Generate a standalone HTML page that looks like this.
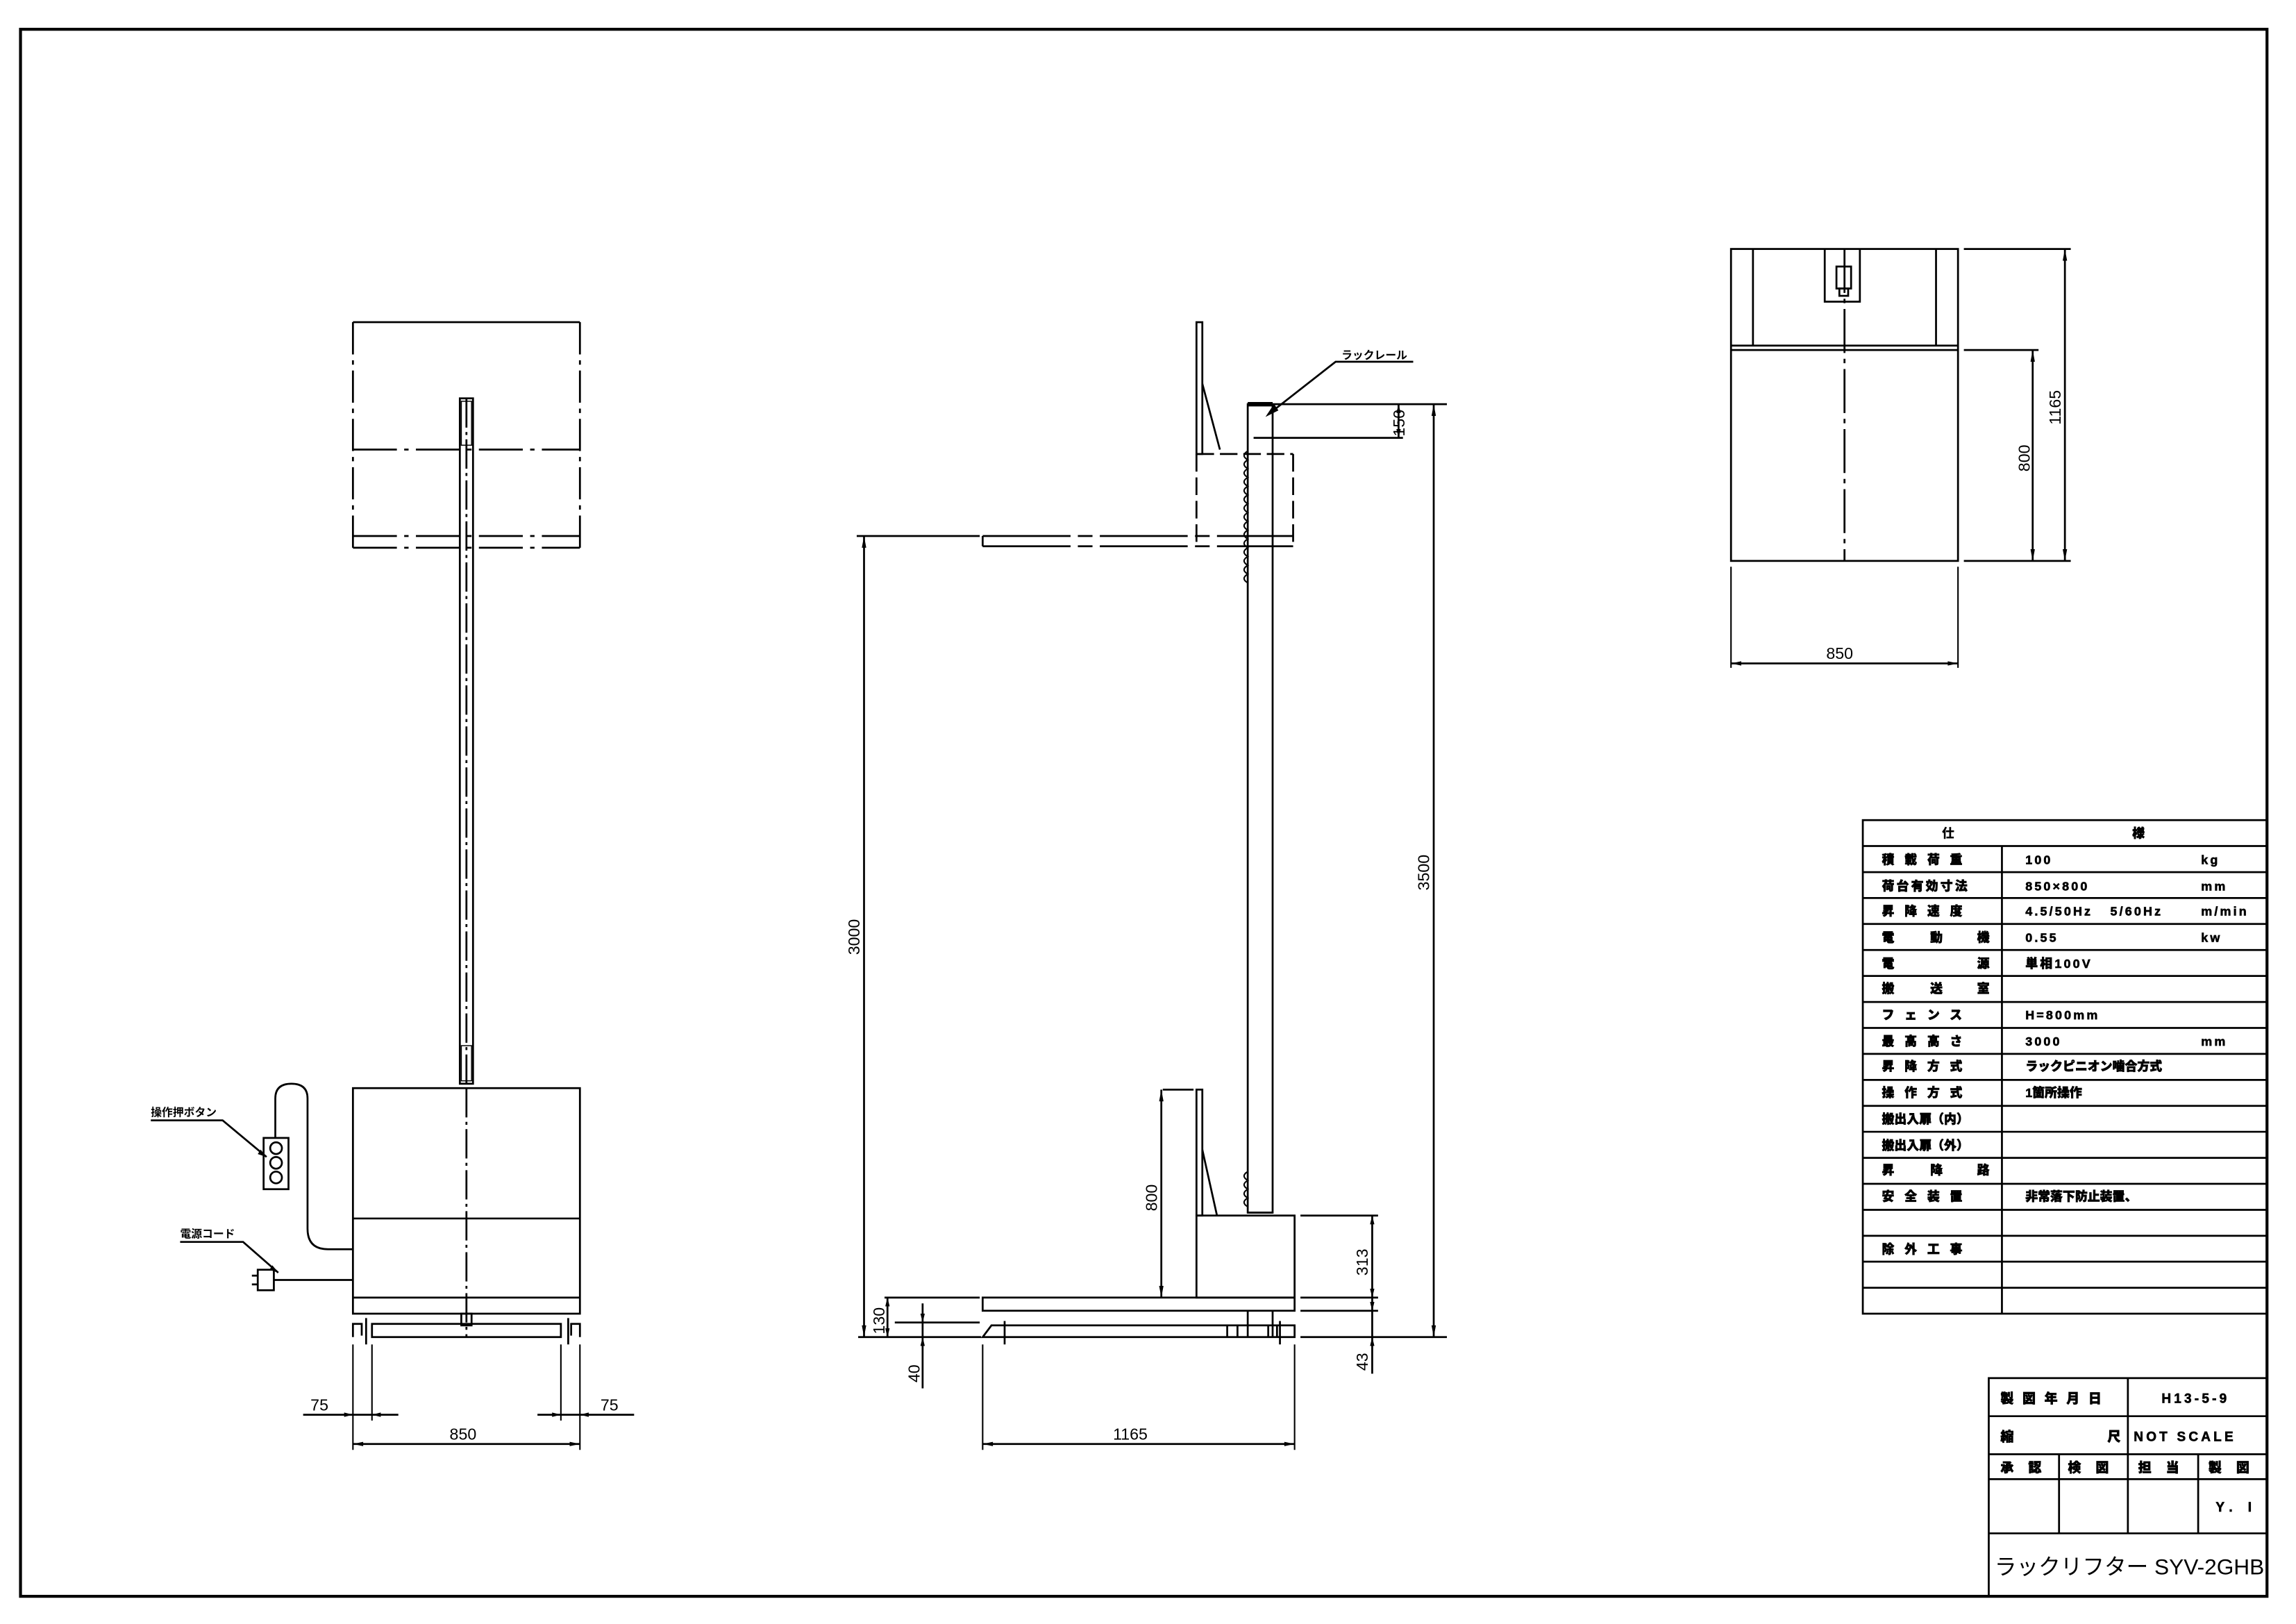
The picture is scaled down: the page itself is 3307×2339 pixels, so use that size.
<!DOCTYPE html>
<html><head><meta charset="utf-8"><style>
html,body{margin:0;padding:0;background:#fff}
svg{display:block}
text{font-family:"Liberation Sans","Noto Sans CJK JP",sans-serif;fill:#000}
.b{font-weight:bold}
</style></head><body>
<svg width="3307" height="2339" viewBox="0 0 1567.8 1108.9" preserveAspectRatio="none" xmlns="http://www.w3.org/2000/svg">
<g fill="none" stroke="#000" stroke-width="1.3">
<rect x="14" y="20" width="1534" height="1070" stroke-width="2"/>

<!-- LEFT VIEW -->
<line x1="241" y1="220" x2="396" y2="220"/>
<line x1="241" y1="220" x2="241" y2="374" stroke-dasharray="22,4,3,4"/>
<line x1="396" y1="220" x2="396" y2="374" stroke-dasharray="22,4,3,4"/>
<line x1="241" y1="307" x2="396" y2="307" stroke-dasharray="30,5,3,5"/>
<line x1="241" y1="366" x2="396" y2="366" stroke-dasharray="30,5,3,5"/>
<line x1="241" y1="374" x2="396" y2="374" stroke-dasharray="30,5,3,5"/>
<rect x="314" y="272" width="9" height="468"/>
<line x1="318.5" y1="272" x2="318.5" y2="740" stroke-dasharray="20,3,2,3"/>
<rect x="315" y="274" width="7" height="30" stroke-width="0.7"/>
<rect x="315" y="714" width="7" height="24" stroke-width="0.7"/>
<rect x="241" y="743" width="155" height="154"/>
<line x1="241" y1="832" x2="396" y2="832"/>
<line x1="241" y1="886" x2="396" y2="886"/>
<line x1="318.5" y1="743" x2="318.5" y2="913" stroke-dasharray="20,3,2,3"/>
<rect x="315" y="897" width="7" height="8"/>
<path d="M241 913 V904 H247 V912 M254 904 H383 V913 H254 Z M390 912 V904 H396 V913"/>
<line x1="250" y1="900" x2="250" y2="918"/>
<line x1="388" y1="900" x2="388" y2="918"/>
<line x1="241" y1="918" x2="241" y2="990" stroke-width="1"/>
<line x1="396" y1="918" x2="396" y2="990" stroke-width="1"/>
<line x1="254" y1="918" x2="254" y2="970" stroke-width="1"/>
<line x1="383" y1="918" x2="383" y2="970" stroke-width="1"/>
<line x1="207" y1="966" x2="272" y2="966"/>
<line x1="367" y1="966" x2="433" y2="966"/>
<line x1="241" y1="986" x2="396" y2="986"/>
<rect x="180" y="777" width="17" height="35"/>
<circle cx="188.5" cy="784" r="4"/><circle cx="188.5" cy="794" r="4"/><circle cx="188.5" cy="804" r="4"/>
<path d="M188 777 V750 Q188 740 199 740 Q210 740 210 750 V839 Q210 853 224 853 H241"/>
<path d="M103 765 H152 L182 790"/>
<path d="M123 848 H166 L190 869"/>
<rect x="176" y="867" width="11" height="14"/>
<path d="M176 871 H172 M176 877 H172"/>
<line x1="187" y1="874" x2="241" y2="874"/>

<!-- MIDDLE VIEW -->
<rect x="817" y="220" width="4" height="90"/>
<line x1="821" y1="262" x2="833" y2="307"/>
<line x1="817" y1="310" x2="883" y2="310" stroke-dasharray="12,4"/>
<line x1="883" y1="310" x2="883" y2="373" stroke-dasharray="12,4"/>
<line x1="817" y1="310" x2="817" y2="373" stroke-dasharray="12,4"/>
<line x1="671" y1="366" x2="883" y2="366" stroke-dasharray="60,5,10,5"/>
<line x1="671" y1="373" x2="883" y2="373" stroke-dasharray="60,5,10,5"/>
<line x1="671" y1="366" x2="671" y2="373"/>
<rect x="852" y="276" width="17" height="552"/>
<line x1="852" y1="276" x2="869" y2="276" stroke-width="3"/>
<path d="M852 308 q-5 3 0 6 q-5 3 0 6 q-5 3 0 6 q-5 3 0 6 q-5 3 0 6 q-5 3 0 6 q-5 3 0 6 q-5 3 0 6 q-5 3 0 6 q-5 3 0 6 q-5 3 0 6 q-5 3 0 6 q-5 3 0 6 q-5 3 0 6 q-5 3 0 6" stroke-width="1"/>
<path d="M852 800 q-5 3 0 6 q-5 3 0 6 q-5 3 0 6 q-5 3 0 6" stroke-width="1"/>
<path d="M916 247 H965 M916 247 H912 L866 283" />
<path d="M866 283 l4 -6 l2 3 z" fill="#000"/>
<line x1="856" y1="299" x2="958" y2="299"/>
<line x1="869" y1="276" x2="988" y2="276"/>
<rect x="817" y="744" width="4" height="86"/>
<line x1="821" y1="785" x2="831" y2="830"/>
<rect x="817" y="830" width="67" height="56"/>
<line x1="852" y1="828" x2="869" y2="828"/>
<rect x="671" y="886" width="213" height="9"/>
<path d="M671 913 L677 905 H884 V913 Z"/>
<path d="M838 913 V905 M845 913 V905 M866 913 V905 M872 913 V905"/>
<line x1="852" y1="895" x2="852" y2="913"/><line x1="869" y1="895" x2="869" y2="913"/>
<line x1="686" y1="902" x2="686" y2="918"/>
<line x1="874" y1="902" x2="874" y2="918"/>
<line x1="586" y1="913" x2="670" y2="913"/>
<line x1="888" y1="913" x2="988" y2="913"/>
<line x1="585" y1="366" x2="669" y2="366"/>
<line x1="590" y1="366" x2="590" y2="913"/>
<line x1="794" y1="744" x2="815" y2="744"/>
<line x1="793" y1="744" x2="793" y2="886"/>
<line x1="604" y1="886" x2="669" y2="886"/>
<line x1="606" y1="886" x2="606" y2="913"/>
<line x1="611" y1="903" x2="669" y2="903"/>
<line x1="630" y1="890" x2="630" y2="948"/>
<line x1="888" y1="830" x2="941" y2="830"/>
<line x1="888" y1="886" x2="941" y2="886"/>
<line x1="888" y1="895" x2="941" y2="895"/>
<line x1="937" y1="830" x2="937" y2="938"/>
<line x1="955" y1="276" x2="955" y2="299"/>
<line x1="979" y1="276" x2="979" y2="913"/>
<line x1="671" y1="918" x2="671" y2="990" stroke-width="1"/>
<line x1="884" y1="918" x2="884" y2="990" stroke-width="1"/>
<line x1="671" y1="986" x2="884" y2="986"/>

<!-- TOP RIGHT VIEW -->
<rect x="1182" y="170" width="155" height="213"/>
<line x1="1197" y1="170" x2="1197" y2="236"/>
<line x1="1322" y1="170" x2="1322" y2="236"/>
<line x1="1182" y1="236" x2="1337" y2="236"/>
<line x1="1182" y1="239" x2="1337" y2="239"/>
<path d="M1246 170 V206 H1270 V170"/>
<rect x="1254" y="182" width="10" height="15"/>
<rect x="1256" y="197" width="6" height="5"/>
<line x1="1259.5" y1="170" x2="1259.5" y2="383" stroke-dasharray="30,4,3,4"/>
<line x1="1341" y1="170" x2="1414" y2="170"/>
<line x1="1341" y1="239" x2="1392" y2="239"/>
<line x1="1341" y1="383" x2="1414" y2="383"/>
<line x1="1410" y1="170" x2="1410" y2="383"/>
<line x1="1388" y1="239" x2="1388" y2="383"/>
<line x1="1182" y1="387" x2="1182" y2="456" stroke-width="1"/>
<line x1="1337" y1="387" x2="1337" y2="456" stroke-width="1"/>
<line x1="1182" y1="453" x2="1337" y2="453"/>

<!-- SPEC TABLE -->
<rect x="1272" y="560" width="276" height="337"/>
<line x1="1367" y1="577.7" x2="1367" y2="897"/>
<g>
<line x1="1272" y1="577.7" x2="1548" y2="577.7"/><line x1="1272" y1="595.5" x2="1548" y2="595.5"/>
<line x1="1272" y1="613.2" x2="1548" y2="613.2"/><line x1="1272" y1="630.9" x2="1548" y2="630.9"/>
<line x1="1272" y1="648.7" x2="1548" y2="648.7"/><line x1="1272" y1="666.4" x2="1548" y2="666.4"/>
<line x1="1272" y1="684.2" x2="1548" y2="684.2"/><line x1="1272" y1="701.9" x2="1548" y2="701.9"/>
<line x1="1272" y1="719.6" x2="1548" y2="719.6"/><line x1="1272" y1="737.4" x2="1548" y2="737.4"/>
<line x1="1272" y1="755.1" x2="1548" y2="755.1"/><line x1="1272" y1="772.8" x2="1548" y2="772.8"/>
<line x1="1272" y1="790.6" x2="1548" y2="790.6"/><line x1="1272" y1="808.3" x2="1548" y2="808.3"/>
<line x1="1272" y1="826.1" x2="1548" y2="826.1"/><line x1="1272" y1="843.8" x2="1548" y2="843.8"/>
<line x1="1272" y1="861.5" x2="1548" y2="861.5"/><line x1="1272" y1="879.3" x2="1548" y2="879.3"/>
</g>

<!-- TITLE BLOCK -->
<rect x="1358" y="941" width="190" height="149"/>
<line x1="1453" y1="941" x2="1453" y2="1047"/>
<line x1="1358" y1="967" x2="1548" y2="967"/>
<line x1="1358" y1="993" x2="1548" y2="993"/>
<line x1="1358" y1="1010" x2="1548" y2="1010"/>
<line x1="1358" y1="1047" x2="1548" y2="1047"/>
<line x1="1406" y1="993" x2="1406" y2="1047"/>
<line x1="1501" y1="993" x2="1501" y2="1047"/>
</g>

<g fill="#000">
<path d="M590 366 l-1.5 8 h3z M590 913 l-1.5 -8 h3z"/>
<path d="M793 744 l-1.5 8 h3z M793 886 l-1.5 -8 h3z"/>
<path d="M979 276 l-1.5 8 h3z M979 913 l-1.5 -8 h3z"/>
<path d="M955 276 l-1.5 6 h3z M955 299 l-1.5 -6 h3z"/>
<path d="M937 830 l-1.5 6 h3z M937 886 l-1.5 -6 h3z M937 895 l-1.5 -6 h3z M937 913 l-1.5 6 h3z"/>
<path d="M606 886 l-1.5 6 h3z M606 913 l-1.5 -6 h3z"/>
<path d="M630 903 l-1.5 -6 h3z M630 913 l-1.5 6 h3z"/>
<path d="M671 986 l7 -1.5 v3z M884 986 l-7 -1.5 v3z"/>
<path d="M241 986 l7 -1.5 v3z M396 986 l-7 -1.5 v3z"/>
<path d="M241 966 l-6 -1.5 v3z M254 966 l6 -1.5 v3z M383 966 l-6 -1.5 v3z M396 966 l6 -1.5 v3z"/>
<path d="M1410 170 l-1.5 8 h3z M1410 383 l-1.5 -8 h3z"/>
<path d="M1388 239 l-1.5 8 h3z M1388 383 l-1.5 -8 h3z"/>
<path d="M1182 453 l7 -1.5 v3z M1337 453 l-7 -1.5 v3z"/>
<path d="M182 790 l-6 -2 l2 -3z M190 869 l-6 -2 l2 -3z"/>
</g>

<g font-size="11">
<text x="212" y="963">75</text>
<text x="410" y="963">75</text>
<text x="307" y="983">850</text>
<text x="760" y="983">1165</text>
<text x="1247" y="450">850</text>
<text transform="translate(587,652) rotate(-90)">3000</text>
<text transform="translate(976,608) rotate(-90)">3500</text>
<text transform="translate(790,827) rotate(-90)">800</text>
<text transform="translate(934,871) rotate(-90)">313</text>
<text transform="translate(959,298) rotate(-90)">150</text>
<text transform="translate(604,911) rotate(-90)">130</text>
<text transform="translate(628,944) rotate(-90)">40</text>
<text transform="translate(934,936) rotate(-90)">43</text>
<text transform="translate(1386,322) rotate(-90)">800</text>
<text transform="translate(1407,290) rotate(-90)">1165</text>
</g>
<g font-size="7.5" class="b">
<text x="103" y="762">操作押ボタン</text>
<text x="123" y="845">電源コード</text>
<text x="916" y="245">ラックレール</text>
</g>

<g font-size="8.5" font-weight="900" stroke="#000" stroke-width="0.3">
<text x="1326" y="572" stroke="none">仕</text><text x="1456" y="572">様</text>
<text x="1285" y="590" letter-spacing="7">積載荷重</text>
<text x="1285" y="608" letter-spacing="1.5">荷台有効寸法</text>
<text x="1285" y="625" letter-spacing="7">昇降速度</text>
<text x="1285" y="643">電</text><text x="1318" y="643">動</text><text x="1350" y="643">機</text>
<text x="1285" y="661">電</text><text x="1350" y="661">源</text>
<text x="1285" y="678">搬</text><text x="1318" y="678">送</text><text x="1350" y="678">室</text>
<text x="1285" y="696" letter-spacing="7">フェンス</text>
<text x="1285" y="714" letter-spacing="7">最高高さ</text>
<text x="1285" y="731" letter-spacing="7">昇降方式</text>
<text x="1285" y="749" letter-spacing="7">操作方式</text>
<text x="1285" y="767">搬出入扉（内）</text>
<text x="1285" y="785">搬出入扉（外）</text>
<text x="1285" y="802">昇</text><text x="1318" y="802">降</text><text x="1350" y="802">路</text>
<text x="1285" y="820" letter-spacing="7">安全装置</text>
<text x="1285" y="856" letter-spacing="7">除外工事</text>
<g letter-spacing="1.5">
<text x="1383" y="590">100</text><text x="1503" y="590">kg</text>
<text x="1383" y="608">850×800</text><text x="1503" y="608">mm</text>
<text x="1383" y="625">4.5/50Hz</text><text x="1441" y="625">5/60Hz</text><text x="1503" y="625">m/min</text>
<text x="1383" y="643">0.55</text><text x="1503" y="643">kw</text>
<text x="1383" y="661">単相100V</text>
<text x="1383" y="696">H=800mm</text>
<text x="1383" y="714">3000</text><text x="1503" y="714">mm</text>
</g>
<text x="1383" y="731">ラックピニオン噛合方式</text>
<text x="1383" y="749">1箇所操作</text>
<text x="1383" y="820">非常落下防止装置、</text>
</g>

<g font-size="9" font-weight="900" stroke="#000" stroke-width="0.3">
<text x="1366" y="958" letter-spacing="6">製図年月日</text>
<text x="1476" y="958" letter-spacing="2">H13-5-9</text>
<text x="1366" y="984">縮</text><text x="1439" y="984">尺</text>
<text x="1457" y="984" letter-spacing="2">NOT SCALE</text>
<text x="1366" y="1005" letter-spacing="10">承認</text>
<text x="1412" y="1005" letter-spacing="10">検図</text>
<text x="1460" y="1005" letter-spacing="10">担当</text>
<text x="1508" y="1005" letter-spacing="10">製図</text>
<text x="1513" y="1032" letter-spacing="4">Y. I</text>
</g>
<text x="1362" y="1075" font-size="15">ラックリフター SYV-2GHB</text>
</svg>
</body></html>
